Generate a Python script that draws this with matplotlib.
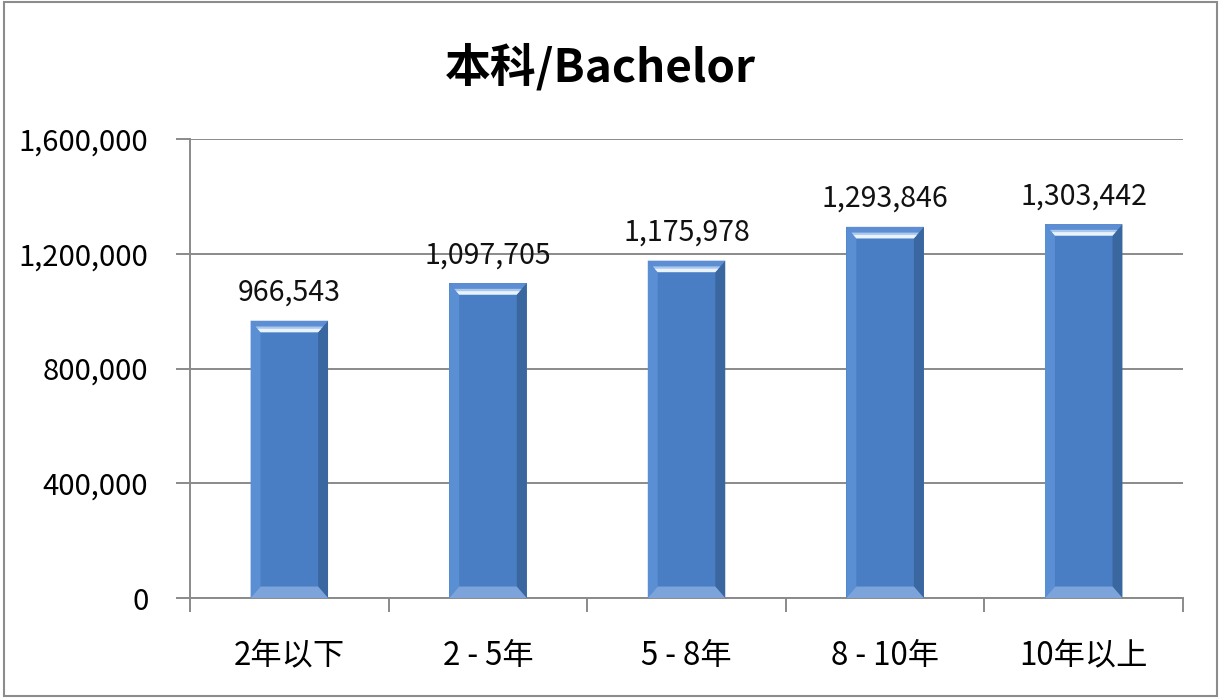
import matplotlib
matplotlib.use("Agg")
import matplotlib.pyplot as plt
from matplotlib.patches import Polygon, Rectangle
from matplotlib.ticker import FuncFormatter, FixedLocator

plt.rcParams['font.family'] = ['Noto Sans CJK SC', 'DejaVu Sans']

categories = ["2年以下", "2 - 5年", "5 - 8年", "8 - 10年", "10年以上"]
salary = [966543, 1097705, 1175978, 1293846, 1303442]
title = "本科/Bachelor"

fig = plt.figure(figsize=(12.22, 7), dpi=100)
ax = fig.add_axes([0.1555, 0.1457, 0.8126, 0.6557])

# outer frame of the chart
fig.patches.append(Rectangle((0.003, 0.006), 0.993, 0.991, transform=fig.transFigure,
                             fill=False, edgecolor="#8c8c8c", linewidth=1.5))

x = range(len(categories))
bars = ax.bar(x, salary, width=0.39, color="#4a7ec4", zorder=3)

# bevel edges on each bar
dx = 0.05
dy = 40000
for b in bars:
    x0, w, h = b.get_x(), b.get_width(), b.get_height()
    x1 = x0 + w
    ax.add_patch(Polygon([(x0, h), (x0 + dx, h - dy), (x0 + dx, dy), (x0, 0)],
                         color="#5b8fd4", lw=0, zorder=4))
    ax.add_patch(Polygon([(x1, h), (x1 - dx, h - dy), (x1 - dx, dy), (x1, 0)],
                         color="#3a679f", lw=0, zorder=4))
    ax.add_patch(Polygon([(x0, 0), (x1, 0), (x1 - dx, dy), (x0 + dx, dy)],
                         color="#7ca3da", lw=0, zorder=4))
    ax.add_patch(Polygon([(x0, h), (x1, h), (x1 - dx, h - dy), (x0 + dx, h - dy)],
                         color="#5d8dd2", lw=0, zorder=4))
    ax.add_patch(Polygon([(x0 + dx * 0.5, h - dy * 0.5), (x1 - dx * 0.5, h - dy * 0.5),
                          (x1 - dx, h - dy), (x0 + dx, h - dy)],
                         color="#a9c8ee", lw=0, zorder=4))
    ax.add_patch(Polygon([(x0 + dx * 0.7, h - dy * 0.7), (x1 - dx * 0.7, h - dy * 0.7),
                          (x1 - dx, h - dy), (x0 + dx, h - dy)],
                         color="#eaf2fc", lw=0, zorder=4))
    ax.text(b.get_x() + w / 2, h + 97000, f"{h:,.0f}", ha="center", va="center",
            fontsize=20.5, color="#111111")

ax.set_xlim(-0.5, len(categories) - 0.5)
ax.set_ylim(0, 1600000)
ax.set_yticks([0, 400000, 800000, 1200000, 1600000])
ax.yaxis.set_major_formatter(FuncFormatter(lambda v, p: f"{v:,.0f}"))
ax.grid(axis="y", color="#8a8a8a", linewidth=1.4, zorder=0)

ax.set_xticks(list(x))
ax.set_xticklabels(categories, fontsize=22.5)
ax.xaxis.set_minor_locator(FixedLocator([i - 0.5 for i in range(len(categories) + 1)]))
ax.tick_params(axis="x", which="major", length=0, pad=30)
ax.tick_params(axis="x", which="minor", length=10, width=1.4, color="#8a8a8a")
ax.tick_params(axis="y", length=10, width=1.4, color="#8a8a8a", labelsize=21, pad=20)

for s in ["top", "right"]:
    ax.spines[s].set_visible(False)
for s in ["left", "bottom"]:
    ax.spines[s].set_color("#8a8a8a")
    ax.spines[s].set_linewidth(1.4)

fig.text(0.491, 0.903, title, ha="center", va="center", fontsize=33, fontweight="bold")

fig.savefig("out.png", dpi=100)
